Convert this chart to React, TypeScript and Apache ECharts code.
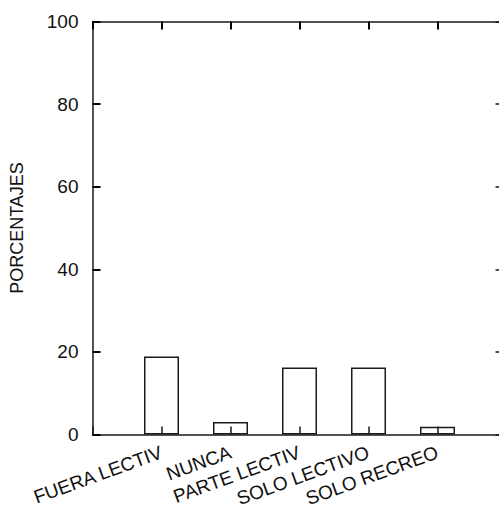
import React, { useEffect, useRef } from "react";
import * as echarts from "echarts";

const categories = ["FUERA LECTIV", "NUNCA", "PARTE LECTIV", "SOLO LECTIVO", "SOLO RECREO"];
const values = [18.9, 3.0, 16.2, 16.2, 1.9];
const yTicks = [0, 20, 40, 60, 80, 100];

export default function App() {
  const ref = useRef<HTMLDivElement>(null);
  useEffect(() => {
    document.body.style.margin = "0";
    const chart = echarts.init(ref.current!, null, { renderer: "svg" });
    const font = "'Liberation Sans', Arial, Helvetica, sans-serif";
    const ls = () => ({ color: "#1a1a1a", width: 1.5 });
    const ts = () => ({ color: "#000", width: 2 });
    chart.setOption({
      animation: false,
      backgroundColor: "#fff",
      grid: { left: 92.5, top: 21.5, width: 414, height: 413, outerBoundsMode: "none", containLabel: false },
      xAxis: [
        {
          type: "value",
          position: "bottom",
          min: 0,
          max: categories.length + 1,
          interval: 1,
          splitLine: { show: false },
          axisLine: { show: true, onZero: false, lineStyle: ls() },
          axisTick: { show: true, inside: true, length: 8, lineStyle: ls() },
          axisLabel: {
            rotate: 20,
            margin: 17,
            fontSize: 19,
            fontFamily: font,
            color: "#111",
            showMinLabel: true,
            showMaxLabel: true,
            formatter: (v: number) => categories[v - 1] ?? "",
          },
        },
        {
          type: "value",
          position: "top",
          min: 0,
          max: categories.length + 1,
          interval: 1,
          splitLine: { show: false },
          axisLine: { show: true, onZero: false, lineStyle: ls() },
          axisTick: { show: true, inside: false, length: -8, lineStyle: ts() },
          axisLabel: { show: false },
        },
      ],
      yAxis: [
        {
          type: "value",
          position: "left",
          min: yTicks[0],
          max: yTicks[yTicks.length - 1],
          interval: 20,
          name: "PORCENTAJES",
          nameLocation: "middle",
          nameGap: 67,
          nameTextStyle: { fontSize: 18, fontFamily: font, color: "#111" },
          splitLine: { show: false },
          axisLine: { show: true, onZero: false, lineStyle: ls() },
          axisTick: { show: true, inside: false, length: -8, lineStyle: ts() },
          axisLabel: { fontSize: 19, fontFamily: font, color: "#111", margin: 14 },
        },
        {
          type: "value",
          position: "right",
          min: yTicks[0],
          max: yTicks[yTicks.length - 1],
          interval: 20,
          splitLine: { show: false },
          axisLine: { show: true, onZero: false, lineStyle: ls() },
          axisTick: { show: true, inside: true, length: 11, lineStyle: ls() },
          axisLabel: { show: false },
        },
      ],
      series: [
        {
          type: "bar",
          xAxisIndex: 0,
          yAxisIndex: 0,
          barWidth: 35,
          data: values.map((v, i) => [i + 1, v]),
          itemStyle: { color: "transparent", borderColor: "#1a1a1a", borderWidth: 1.5 },
          z: 1,
        },
      ],
    });
    return () => chart.dispose();
  }, []);
  return <div ref={ref} style={{ width: 499, height: 509 }} />;
}
